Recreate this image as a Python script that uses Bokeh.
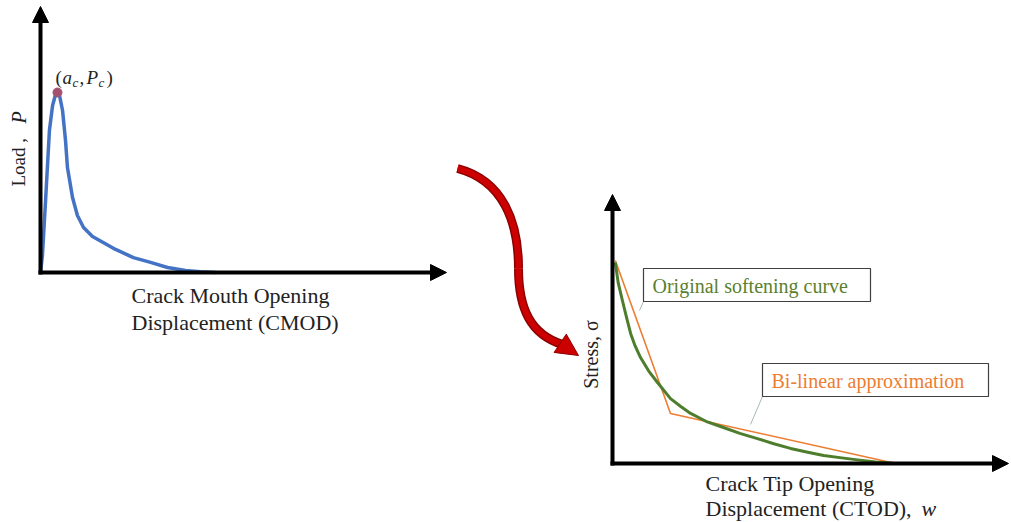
import numpy as np
from bokeh.plotting import figure
from bokeh.models import Range1d, Arrow, NormalHead, Label
from bokeh.embed import file_html
from bokeh.resources import INLINE

# ---------------- data ----------------
# Left diagram: load vs CMOD (normalised units)
cmod = [0, 0.011, 0.029, 0.051, 0.069, 0.086, 0.097, 0.109, 0.126, 0.143, 0.154, 0.183,
        0.211, 0.246, 0.297, 0.343, 0.429, 0.531, 0.629, 0.726, 0.829, 0.914, 1.0]
load = [0, 0.094, 0.400, 0.789, 0.928, 0.989, 1.0, 0.983, 0.900, 0.733, 0.583, 0.417,
        0.317, 0.250, 0.200, 0.175, 0.128, 0.083, 0.056, 0.028, 0.011, 0.004, 0]

# Right diagram: softening curve (normalised units)
w_soft = [0.010, 0.020, 0.035, 0.050, 0.064, 0.080, 0.099, 0.128, 0.159, 0.205, 0.240, 0.276,
          0.330, 0.392, 0.450, 0.512, 0.570, 0.629, 0.690, 0.746, 0.810, 0.866, 0.930, 1.0]
s_soft = [1.0, 0.900, 0.811, 0.725, 0.647, 0.585, 0.527, 0.460, 0.403, 0.323, 0.285, 0.249,
          0.210, 0.179, 0.150, 0.124, 0.098, 0.075, 0.056, 0.040, 0.028, 0.018, 0.008, 0]

# Bi-linear approximation
w_bil = [0.010, 0.205, 1.0]
s_bil = [1.01, 0.249, 0.0]

# ---------------- layout (pixel frame of the page image) ----------------
W, H = 1011, 522
PX0, PY0 = 0, 0
L_ORIG = (40, 272); L_SX = 175; L_SY = 180     # left panel origin and pixels per unit
R_ORIG = (612, 463); R_SX = 283; R_SY = 201    # right panel origin and pixels per unit

p = figure(width=W, height=H, output_backend="svg", toolbar_location=None,
           x_range=Range1d(PX0, PX0 + W), y_range=Range1d(PY0 + H, PY0),
           min_border=0, background_fill_color="white", border_fill_color="white")
p.axis.visible = False
p.grid.visible = False
p.outline_line_color = None

def xr(orig, s):
    return Range1d((PX0 - orig) / s, (PX0 + W - orig) / s)

def yr(orig, s):
    return Range1d((orig - (PY0 + H)) / s, (orig - PY0) / s)

p.extra_x_ranges = {"cmod": xr(L_ORIG[0], L_SX), "ctod": xr(R_ORIG[0], R_SX)}
p.extra_y_ranges = {"load": yr(L_ORIG[1], L_SY), "stress": yr(R_ORIG[1], R_SY)}

FONT = "Liberation Serif"
INK = "#222222"
TITLE_FS = "22px"

# ---------------- left panel ----------------
p.line(cmod, load, x_range_name="cmod", y_range_name="load",
       line_color="#4472c4", line_width=3.5, line_join="round")
ipk = int(np.argmax(load))
p.scatter([cmod[ipk]], [load[ipk]], x_range_name="cmod", y_range_name="load",
          size=9, fill_color="#a5506e", line_color="#a5506e")

for (x0, y0, x1, y1) in [(40, 274, 40, 6), (38, 272, 446, 272)]:
    p.add_layout(Arrow(end=NormalHead(size=16, fill_color="black", line_color="black"),
                       x_start=x0, y_start=y0, x_end=x1, y_end=y1,
                       line_color="black", line_width=4))

# peak label (a_c, P_c)
pieces = [("(", 55, 77, "normal", "19px"), ("a", 62, 77, "italic", "19px"), ("c", 72, 82, "italic", "13px"),
          (",", 79, 77, "normal", "19px"), ("P", 86, 77, "italic", "19px"), ("c", 98, 82, "italic", "13px"),
          (")", 106, 77, "normal", "19px")]
for t, x, y, st, fs in pieces:
    p.add_layout(Label(x=x, y=y, text=t, text_font=FONT,
                       text_font_style=st, text_font_size=fs, text_baseline="middle",
                       text_color=INK))

p.add_layout(Label(x=18, y=186, text="Load , ", angle=np.pi / 2, text_font=FONT,
                   text_font_size="19px", text_baseline="middle", text_align="left",
                   text_color=INK))
p.add_layout(Label(x=18, y=123, text="P", angle=np.pi / 2, text_font=FONT, text_font_style="italic",
                   text_font_size="20px", text_baseline="middle", text_align="left",
                   text_color=INK))
p.add_layout(Label(x=131, y=295, text="Crack Mouth Opening", text_font=FONT,
                   text_font_size=TITLE_FS, text_baseline="middle", text_color=INK))
p.add_layout(Label(x=131, y=322, text="Displacement (CMOD)", text_font=FONT,
                   text_font_size=TITLE_FS, text_baseline="middle", text_color=INK))

# ---------------- curved red arrow ----------------
bz = dict(x0=[457, 518], y0=[168, 268], x1=[518, 562], y1=[268, 344],
          cx0=[503, 518], cy0=[180, 308], cx1=[518, 530], cy1=[222, 334])
p.bezier(**bz, line_color="#8b0000", line_width=9)
p.bezier(**bz, line_color="#cc0000", line_width=6)
p.add_layout(Arrow(end=NormalHead(size=22, fill_color="#cc0000", line_color="#8b0000", line_width=1),
                   x_start=557, y_start=341, x_end=578, y_end=355,
                   line_color="#cc0000", line_width=1))

# ---------------- right panel ----------------
p.line(w_bil, s_bil, x_range_name="ctod", y_range_name="stress",
       line_color="#ed7d31", line_width=1.6)
p.line(w_soft, s_soft, x_range_name="ctod", y_range_name="stress",
       line_color="#4e7d2c", line_width=3, line_join="round")

for (x0, y0, x1, y1) in [(612, 465, 612, 194), (610, 463, 1008, 463)]:
    p.add_layout(Arrow(end=NormalHead(size=16, fill_color="black", line_color="black"),
                       x_start=x0, y_start=y0, x_end=x1, y_end=y1,
                       line_color="black", line_width=4))

# callout boxes + leader lines
p.segment(x0=[643, 762], y0=[301, 396], x1=[639, 750], y1=[310, 424],
          line_color="#a9b8bc", line_width=1)
p.quad(left=[643, 762], right=[870, 988], top=[268, 363], bottom=[301, 396],
       fill_color="white", line_color="#404040", line_width=1.2)
p.add_layout(Label(x=652, y=285, text="Original softening curve", text_font=FONT,
                   text_font_size="20px", text_baseline="middle", text_color="#5b7f2f"))
p.add_layout(Label(x=771, y=380, text="Bi-linear approximation", text_font=FONT,
                   text_font_size="20px", text_baseline="middle", text_color="#ed7d31"))

p.add_layout(Label(x=590, y=354, text="Stress, σ", angle=np.pi / 2, text_font=FONT,
                   text_font_size="20px", text_baseline="middle", text_align="center",
                   text_color=INK))
p.add_layout(Label(x=705, y=483, text="Crack Tip Opening", text_font=FONT,
                   text_font_size=TITLE_FS, text_baseline="middle", text_color=INK))
p.add_layout(Label(x=705, y=508, text="Displacement (CTOD), ", text_font=FONT,
                   text_font_size=TITLE_FS, text_baseline="middle", text_color=INK))
p.add_layout(Label(x=921, y=508, text="w", text_font=FONT, text_font_style="italic",
                   text_font_size=TITLE_FS, text_baseline="middle", text_color=INK))

open("out.html", "w").write(file_html(p, INLINE))
